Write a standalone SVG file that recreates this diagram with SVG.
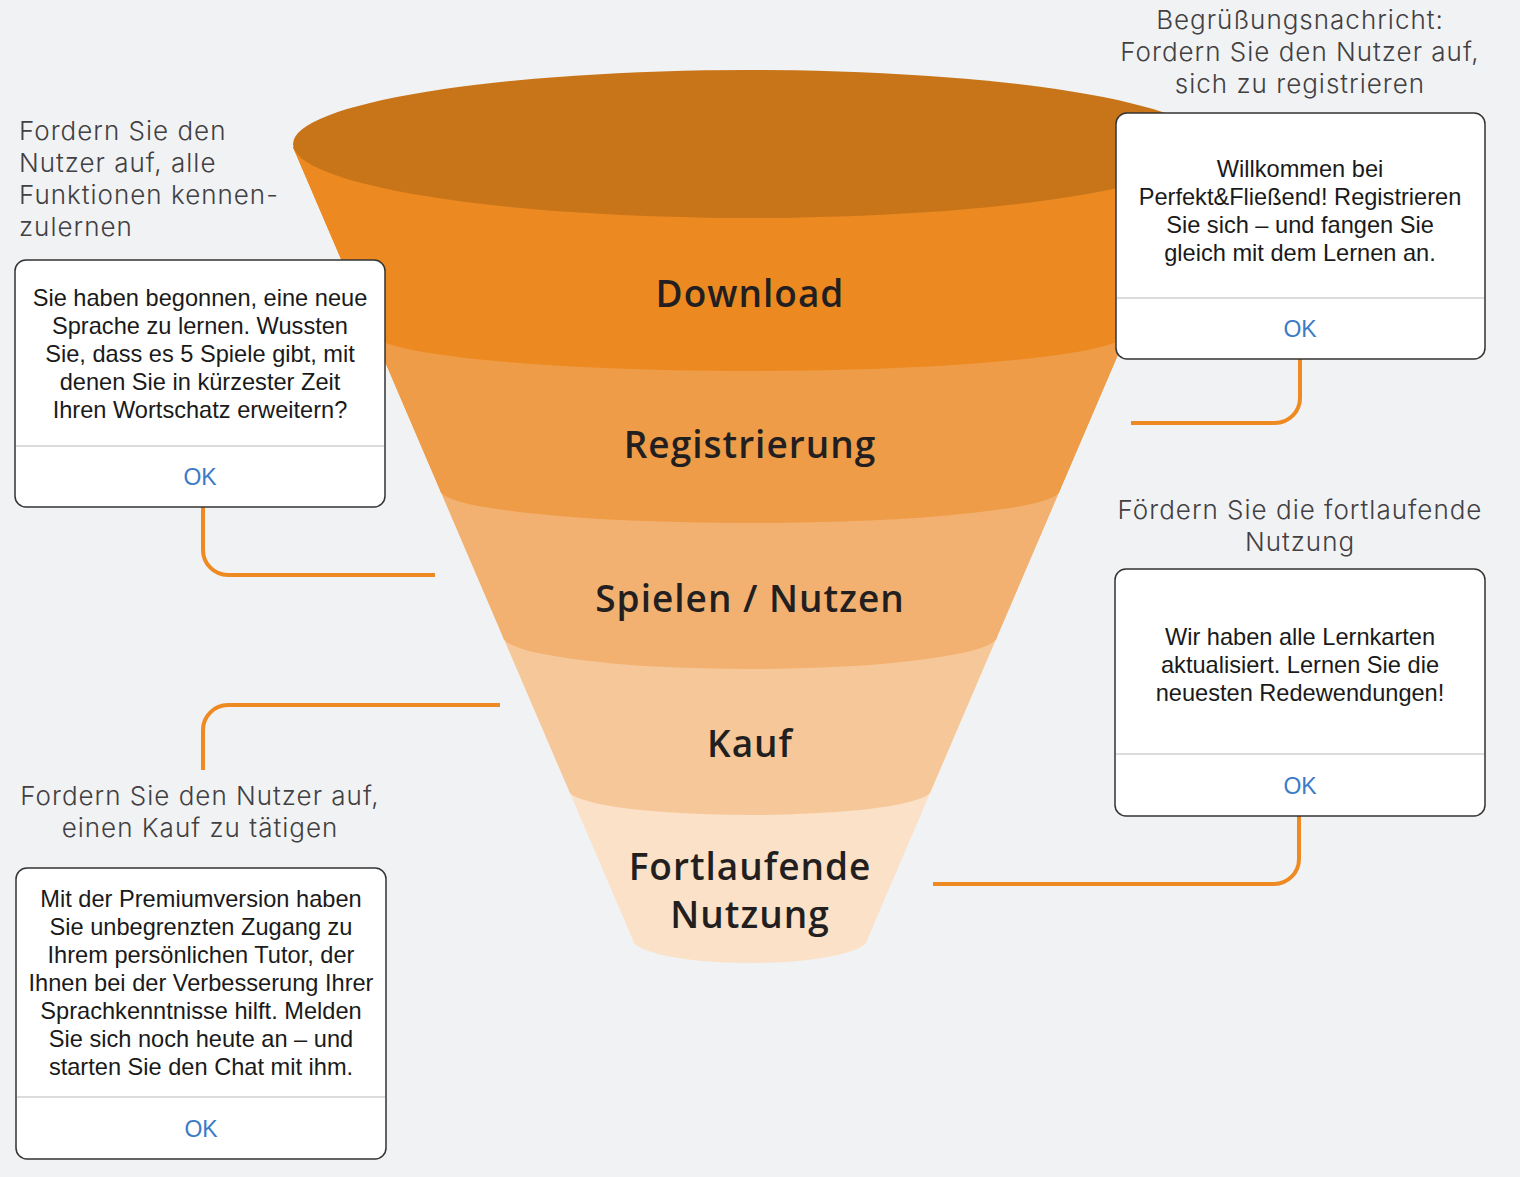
<svg xmlns="http://www.w3.org/2000/svg" width="1520" height="1177" viewBox="0 0 1520 1177">
<style>
.stage{font-family:"Open Sans","Liberation Sans",sans-serif;font-weight:600;font-size:37px;letter-spacing:1px;fill:#231f20;text-anchor:middle}
.note{font-family:Inter,"Liberation Sans",sans-serif;font-weight:300;font-size:26px;letter-spacing:1px;fill:#414042}
.box{fill:#ffffff;stroke:#333333;stroke-width:1.5}
.div{stroke:#d0d0d0;stroke-width:1.5}
.msg{font-family:"Liberation Sans",Arial,sans-serif;font-size:23.6px;fill:#1a1a1a;text-anchor:middle}
.ok{font-family:"Liberation Sans",Arial,sans-serif;font-size:23px;fill:#3b7bc6;text-anchor:middle}
.conn{fill:none;stroke:#ee8a21;stroke-width:4}
</style>
<rect width="1520" height="1177" fill="#f1f2f4"/>

<g id="funnel">
  <path d="M293 147 L632.5 939 A117.5 24 0 0 0 867.5 939 L1207 147 Z" fill="#fae1c7"/>
  <path d="M293 147 L568.7 790 A181.3 25 0 0 0 931.3 790 L1207 147 Z" fill="#f6c899"/>
  <path d="M293 147 L502.6 636 A247.4 33 0 0 0 997.4 636 L1207 147 Z" fill="#f2b170"/>
  <path d="M293 147 L440 490 A310 33 0 0 0 1060 490 L1207 147 Z" fill="#ee9c47"/>
  <path d="M293 147 L372.7 333 A377.3 38 0 0 0 1127.3 333 L1207 147 Z" fill="#ec8920"/>
  <ellipse cx="750" cy="144" rx="457" ry="74" fill="#c87519"/>
</g>

<g id="stage-download"><text class="stage" x="750" y="307">Download</text></g>
<g id="stage-registrierung"><text class="stage" x="750" y="458">Registrierung</text></g>
<g id="stage-spielen"><text class="stage" x="750" y="612">Spielen / Nutzen</text></g>
<g id="stage-kauf"><text class="stage" x="750" y="757">Kauf</text></g>
<g id="stage-fortlaufend"><text class="stage" x="750" y="880">Fortlaufende</text><text class="stage" x="750" y="928">Nutzung</text></g>

<g id="connectors">
  <path class="conn" d="M203 507 V550 A25 25 0 0 0 228 575 H435"/>
  <path class="conn" d="M1300 359 V398 A25 25 0 0 1 1275 423 H1131"/>
  <path class="conn" d="M500 705 H228 A25 25 0 0 0 203 730 V770"/>
  <path class="conn" d="M1299 816 V859 A25 25 0 0 1 1274 884 H933"/>
</g>

<g id="note-features">
  <text class="note" x="19" y="140">Fordern Sie den</text>
  <text class="note" x="19" y="172">Nutzer auf, alle</text>
  <text class="note" x="19" y="204">Funktionen kennen-</text>
  <text class="note" x="19" y="236">zulernen</text>
</g>
<g id="box-features">
  <rect class="box" x="15" y="260" width="370" height="247" rx="11"/>
  <line class="div" x1="16" y1="446" x2="384" y2="446"/>
  <text class="msg" x="200" y="306">Sie haben begonnen, eine neue</text>
  <text class="msg" x="200" y="334">Sprache zu lernen. Wussten</text>
  <text class="msg" x="200" y="362">Sie, dass es 5 Spiele gibt, mit</text>
  <text class="msg" x="200" y="390">denen Sie in kürzester Zeit</text>
  <text class="msg" x="200" y="418">Ihren Wortschatz erweitern?</text>
  <text class="ok" x="200" y="485">OK</text>
</g>

<g id="note-welcome">
  <text class="note" x="1300" y="29" text-anchor="middle">Begrüßungsnachricht:</text>
  <text class="note" x="1300" y="61" text-anchor="middle">Fordern Sie den Nutzer auf,</text>
  <text class="note" x="1300" y="93" text-anchor="middle">sich zu registrieren</text>
</g>
<g id="box-welcome">
  <rect class="box" x="1116" y="113" width="369" height="246" rx="11"/>
  <line class="div" x1="1117" y1="298" x2="1484" y2="298"/>
  <text class="msg" x="1300" y="177">Willkommen bei</text>
  <text class="msg" x="1300" y="205">Perfekt&amp;Fließend! Registrieren</text>
  <text class="msg" x="1300" y="233">Sie sich – und fangen Sie</text>
  <text class="msg" x="1300" y="261">gleich mit dem Lernen an.</text>
  <text class="ok" x="1300" y="337">OK</text>
</g>

<g id="note-usage">
  <text class="note" x="1300" y="519" text-anchor="middle">Fördern Sie die fortlaufende</text>
  <text class="note" x="1300" y="551" text-anchor="middle">Nutzung</text>
</g>
<g id="box-usage">
  <rect class="box" x="1115" y="569" width="370" height="247" rx="11"/>
  <line class="div" x1="1116" y1="754" x2="1484" y2="754"/>
  <text class="msg" x="1300" y="645">Wir haben alle Lernkarten</text>
  <text class="msg" x="1300" y="673">aktualisiert. Lernen Sie die</text>
  <text class="msg" x="1300" y="701">neuesten Redewendungen!</text>
  <text class="ok" x="1300" y="794">OK</text>
</g>

<g id="note-purchase">
  <text class="note" x="200" y="805" text-anchor="middle">Fordern Sie den Nutzer auf,</text>
  <text class="note" x="200" y="837" text-anchor="middle">einen Kauf zu tätigen</text>
</g>
<g id="box-purchase">
  <rect class="box" x="16" y="868" width="370" height="291" rx="11"/>
  <line class="div" x1="17" y1="1097" x2="385" y2="1097"/>
  <text class="msg" x="201" y="907">Mit der Premiumversion haben</text>
  <text class="msg" x="201" y="935">Sie unbegrenzten Zugang zu</text>
  <text class="msg" x="201" y="963">Ihrem persönlichen Tutor, der</text>
  <text class="msg" x="201" y="991">Ihnen bei der Verbesserung Ihrer</text>
  <text class="msg" x="201" y="1019">Sprachkenntnisse hilft. Melden</text>
  <text class="msg" x="201" y="1047">Sie sich noch heute an – und</text>
  <text class="msg" x="201" y="1075">starten Sie den Chat mit ihm.</text>
  <text class="ok" x="201" y="1137">OK</text>
</g>
</svg>
